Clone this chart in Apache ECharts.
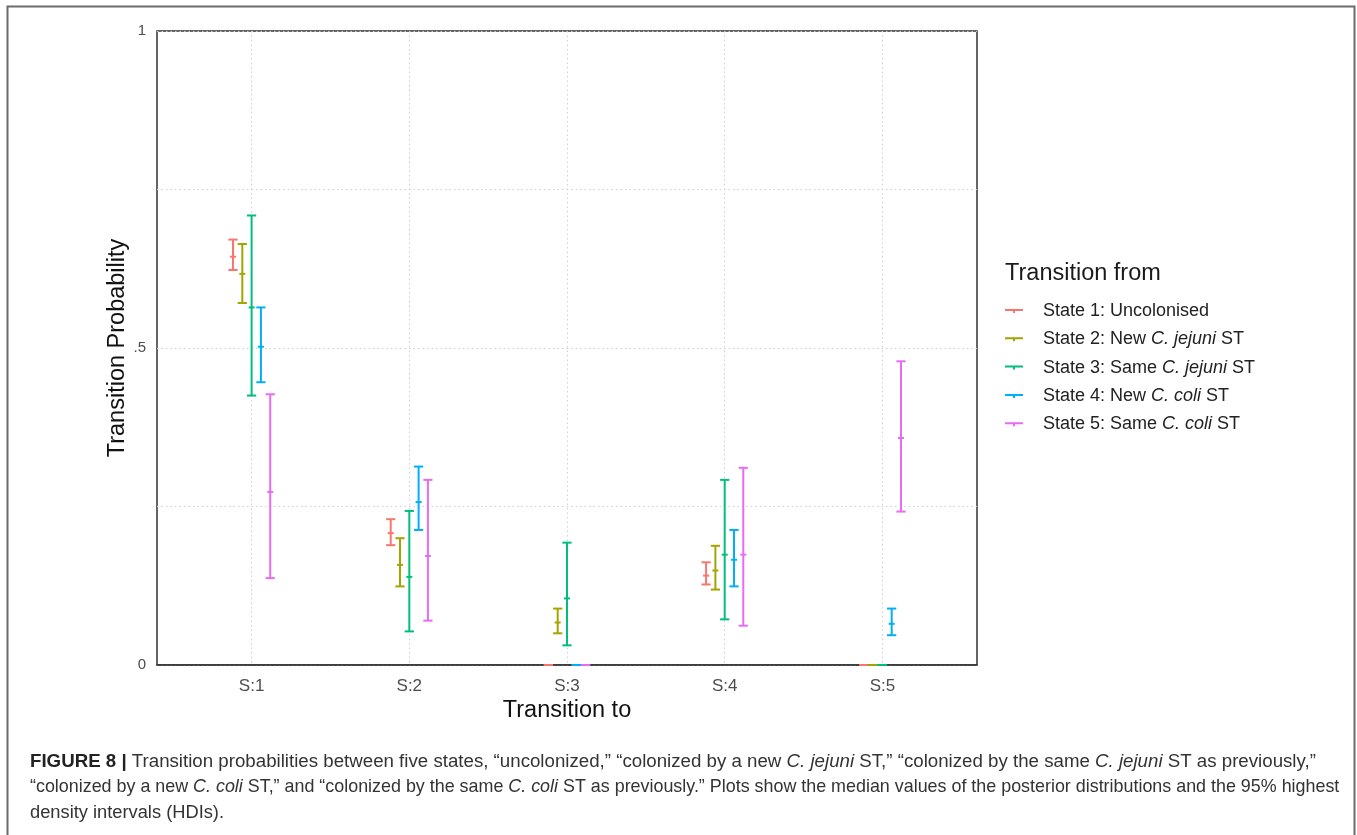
<!DOCTYPE html>
<html>
<head>
<meta charset="utf-8">
<script src="https://cdn.jsdelivr.net/npm/echarts@6/dist/echarts.min.js"></script>
<style>
  html, body { margin: 0; padding: 0; background: #fff; }
  #chart { width: 1357px; height: 835px; }
</style>
</head>
<body>
<div id="chart"></div>
<script>
// categories on the x axis ("Transition to")
const categories = ['S:1', 'S:2', 'S:3', 'S:4', 'S:5']
const stateNames = [
    'State 1: Uncolonised',
    'State 2: New C. jejuni ST',
    'State 3: Same C. jejuni ST',
    'State 4: New C. coli ST',
    'State 5: Same C. coli ST'
]
const stateLabels = [
    'State 1: Uncolonised',
    'State 2: New {i|C. jejuni} ST',
    'State 3: Same {i|C. jejuni} ST',
    'State 4: New {i|C. coli} ST',
    'State 5: Same {i|C. coli} ST'
]
const colors = ['#F8766D', '#A3A500', '#00BF7D', '#00B0F6', '#E76BF3']

// 95% HDI lower / median / upper, one array per "from" state
const low1 = [0.623, 0.189, 0, 0.127, 0]
const med1 = [0.644, 0.208, 0, 0.141, 0]
const high1 = [0.671, 0.230, 0, 0.162, 0]

const low2 = [0.571, 0.124, 0.050, 0.119, 0]
const med2 = [0.617, 0.158, 0.067, 0.149, 0]
const high2 = [0.664, 0.200, 0.089, 0.188, 0]

const low3 = [0.425, 0.053, 0.031, 0.072, 0]
const med3 = [0.564, 0.139, 0.105, 0.174, 0]
const high3 = [0.709, 0.243, 0.193, 0.292, 0]

const low4 = [0.446, 0.213, 0, 0.124, 0.047]
const med4 = [0.502, 0.257, 0, 0.166, 0.065]
const high4 = [0.564, 0.313, 0, 0.213, 0.089]

const low5 = [0.137, 0.070, 0, 0.062, 0.242]
const med5 = [0.273, 0.172, 0, 0.174, 0.358]
const high5 = [0.427, 0.292, 0, 0.311, 0.479]

const yTickLabels = {'0': '0', '0.5': '.5', '1': '1'}

const lows = [low1, low2, low3, low4, low5]
const meds = [med1, med2, med3, med4, med5]
const highs = [high1, high2, high3, high4, high5]

const FONT = '"Liberation Sans", Arial, sans-serif'
const DODGE = 9.3   // px between dodged error bars
const CAP = 4.6     // half width of caps
const MID = 3       // half width of median tick

function renderItem(params, api) {
    let off = (params.seriesIndex - 2) * DODGE
    let x = api.coord([api.value(0), 0])[0] + off
    let yLo = api.coord([0, api.value(1)])[1]
    let yMed = api.coord([0, api.value(2)])[1]
    let yHi = api.coord([0, api.value(3)])[1]
    let style = {stroke: api.visual('color'), lineWidth: 2}
    return {
        type: 'group',
        children: [
            {type: 'line', shape: {x1: x, y1: yLo, x2: x, y2: yHi}, style: style},
            {type: 'line', shape: {x1: x - CAP, y1: yLo, x2: x + CAP, y2: yLo}, style: style},
            {type: 'line', shape: {x1: x - CAP, y1: yHi, x2: x + CAP, y2: yHi}, style: style},
            {type: 'line', shape: {x1: x - MID, y1: yMed, x2: x + MID, y2: yMed}, style: style},
        ]
    }
}

let series = stateNames.map((name, s) => ({
    name: name,
    type: 'custom',
    renderItem: renderItem,
    clip: false,
    itemStyle: {color: colors[s]},
    encode: {x: 0, y: [1, 2, 3]},
    data: categories.map((c, i) => [i + 1, lows[s][i], meds[s][i], highs[s][i]])
}))

// caption text style, font size varies slightly per line to match the line widths
function capStyle(fs) {
    return {
        fontFamily: FONT, fontSize: fs, fontWeight: 'normal', color: '#333',
        rich: {
            b: {fontFamily: FONT, fontSize: fs, fontWeight: 'bold', color: '#222'},
            i: {fontFamily: FONT, fontSize: fs, fontStyle: 'italic', color: '#333'}
        }
    }
}

let chart = echarts.init(document.getElementById('chart'))

chart.setOption({
    animation: false,
    backgroundColor: '#fff',
    title: [
        {
            text: 'Transition from',
            left: 1005, top: 262, padding: 0,
            textStyle: {fontFamily: FONT, fontSize: 23.5, fontWeight: 'normal', color: '#1a1a1a'}
        },
        {
            text: '{b|FIGURE 8 |} Transition probabilities between five states, \u201cuncolonized,\u201d \u201ccolonized by a new {i|C. jejuni} ST,\u201d \u201ccolonized by the same {i|C. jejuni} ST as previously,\u201d',
            left: 30, top: 752, padding: 0,
            textStyle: capStyle(18.7)
        },
        {
            text: '\u201ccolonized by a new {i|C. coli} ST,\u201d and \u201ccolonized by the same {i|C. coli} ST as previously.\u201d Plots show the median values of the posterior distributions and the 95% highest',
            left: 30, top: 778, padding: 0,
            textStyle: capStyle(17.9)
        },
        {
            text: 'density intervals (HDIs).',
            left: 30, top: 804, padding: 0,
            textStyle: capStyle(18.3)
        }
    ],
    graphic: [
        {
            type: 'polyline',
            shape: {points: [[7.5, 835], [7.5, 6.5], [1354.5, 6.5], [1354.5, 835]]},
            style: {stroke: '#6b6b6b', lineWidth: 2, fill: null}
        }
    ],
    legend: {
        orient: 'vertical',
        left: 1005, top: 300, padding: 0,
        itemWidth: 18, itemHeight: 4,
        itemGap: 6.3,
        icon: 'path://M0,0H18V2H0Z M8,2H10V4H8Z',
        data: stateNames,
        formatter: name => stateLabels[stateNames.indexOf(name)],
        textStyle: {
            fontFamily: FONT, fontSize: 18, color: '#222',
            lineHeight: 22, padding: [0, 0, 0, 15],
            rich: {i: {fontFamily: FONT, fontSize: 18, fontStyle: 'italic', color: '#222'}}
        }
    },
    grid: {
        left: 157, top: 31, right: 380, bottom: 170,
        show: true, borderColor: '#333', borderWidth: 1.5, backgroundColor: 'transparent'
    },
    xAxis: {
        type: 'value',
        min: 0.4, max: 5.6,
        name: 'Transition to',
        nameLocation: 'middle',
        nameGap: 34,
        nameMoveOverlap: false,
        nameTextStyle: {fontFamily: FONT, fontSize: 23.5, color: '#111'},
        axisLine: {show: true, onZero: false, lineStyle: {color: '#333', width: 1.5}},
        axisTick: {show: false, customValues: [1, 2, 3, 4, 5]},
        axisLabel: {
            customValues: [1, 2, 3, 4, 5],
            formatter: v => categories[Math.round(v) - 1],
            fontFamily: FONT, fontSize: 17, color: '#4d4d4d', margin: 13
        },
        splitLine: {show: true, lineStyle: {type: [1.5, 3], color: '#cfcfcf', width: 1}}
    },
    yAxis: {
        type: 'value',
        min: 0, max: 1, interval: 0.25,
        name: 'Transition Probability',
        nameLocation: 'middle',
        nameGap: 27,
        nameMoveOverlap: false,
        nameTextStyle: {fontFamily: FONT, fontSize: 23.5, color: '#111'},
        axisLine: {show: false},
        axisTick: {show: false},
        axisLabel: {
            formatter: v => yTickLabels[String(v)] || '',
            fontFamily: FONT, fontSize: 15, color: '#4d4d4d', margin: 11
        },
        splitLine: {show: true, lineStyle: {type: [1.5, 3], color: '#cfcfcf', width: 1}}
    },
    series: series
})
</script>
</body>
</html>
